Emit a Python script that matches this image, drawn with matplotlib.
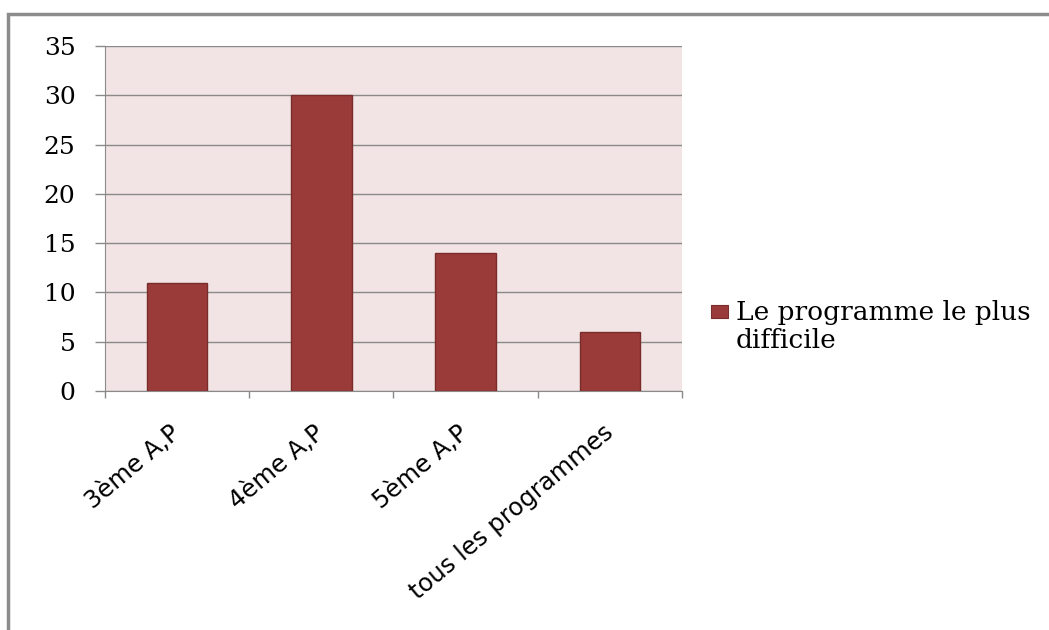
import matplotlib.pyplot as plt
from matplotlib.patches import Rectangle

# data
categories = ["3ème A,P", "4ème A,P", "5ème A,P", "tous les programmes"]
values = [11, 30, 14, 6]
series_label = "Le programme le plus\ndifficile"
y_ticks = [0, 5, 10, 15, 20, 25, 30, 35]

BAR_COLOR = "#9a3b3a"
BAR_EDGE = "#7a2c2b"
PLOT_BG = "#f2e4e4"
GRID = "#8a8a8a"

W, H = 1049, 630
fig = plt.figure(figsize=(W / 100, H / 100), dpi=100)
fig.patch.set_facecolor("white")

# outer chart border (cropped at right and bottom in the reference)
fig.add_artist(Rectangle((8 / W, -0.05), 1.2, (H - 14) / H + 0.05,
                         transform=fig.transFigure, fill=False,
                         edgecolor="#8c8c8c", linewidth=2.5))

ax = fig.add_axes([105 / W, (H - 391) / H, (682 - 105) / W, (391 - 46) / H])
ax.set_facecolor(PLOT_BG)

x = list(range(len(categories)))
bars = ax.bar(x, values, width=0.42, color=BAR_COLOR, edgecolor=BAR_EDGE,
              linewidth=1.0, zorder=3)

ax.set_xlim(-0.5, len(categories) - 0.5)
ax.set_ylim(0, 35)
ax.set_yticks(y_ticks)
ax.yaxis.grid(True, color=GRID, linewidth=1.0, zorder=1)
ax.set_axisbelow(True)

# category boundaries get the tick marks, labels sit at the centres
ax.set_xticks([i - 0.5 for i in range(len(categories) + 1)])
ax.set_xticklabels([])
ax.set_xticks(x, minor=True)
ax.set_xticklabels(categories, minor=True, rotation=40, ha="right",
                   va="center", rotation_mode="anchor",
                   fontsize=17.5, family="DejaVu Sans")
ax.tick_params(axis="x", which="major", length=5, color=GRID, width=1)
ax.tick_params(axis="x", which="minor", length=0, pad=28)
ax.tick_params(axis="y", length=7.2, color=GRID, width=1, pad=14)
for lab in ax.get_yticklabels():
    lab.set_family("DejaVu Serif")
    lab.set_fontsize(18)

for side in ["top", "right"]:
    ax.spines[side].set_visible(False)
ax.spines["left"].set_color(GRID)
ax.spines["bottom"].set_color(GRID)

# legend: square aligned with the first line of the wrapped label
fig.add_artist(Rectangle((711 / W, (H - 318) / H), 17 / W, 13 / H,
                         transform=fig.transFigure, facecolor=BAR_COLOR,
                         edgecolor=BAR_EDGE, linewidth=0.8))
fig.text(736 / W, (H - 300) / H, series_label, ha="left", va="top",
         family="DejaVu Serif", fontsize=19, linespacing=1.15)

fig.savefig("out.png", dpi=100)
